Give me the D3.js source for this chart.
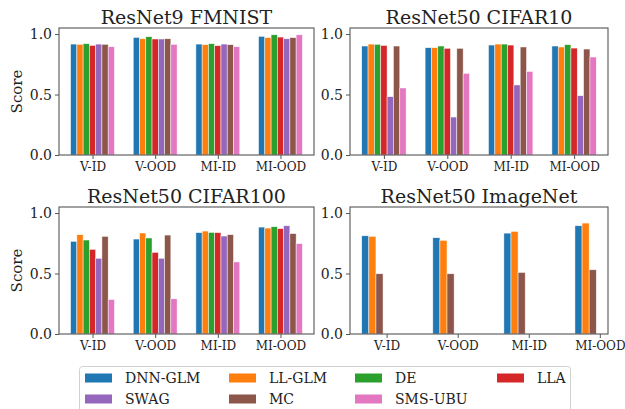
<!DOCTYPE html>
<html>
<head>
<meta charset="utf-8">
<script src="https://cdn.jsdelivr.net/npm/d3@7"></script>
<style>
  html, body { margin: 0; padding: 0; background: #fff; }
  svg { display: block; }
</style>
</head>
<body>
<svg id="chart" width="625" height="409"></svg>
<script>
const SERIF = "DejaVu Serif, Liberation Serif, serif";

// Metric groups on the x axis
const groups = ["V-ID", "V-OOD", "MI-ID", "MI-OOD"];

// Methods, in legend order, with their colours
const methods = ["DNN-GLM", "LL-GLM", "DE", "LLA", "SWAG", "MC", "SMS-UBU"];
const colors  = ["#1f77b4", "#ff7f0e", "#2ca02c", "#d62728", "#9467bd", "#8c564b", "#e377c2"];

// Scores per method, one value per group
const fmnist = {
  "DNN-GLM": [0.917, 0.972, 0.917, 0.981],
  "LL-GLM":  [0.915, 0.961, 0.912, 0.970],
  "DE":      [0.920, 0.978, 0.920, 0.994],
  "LLA":     [0.906, 0.959, 0.904, 0.975],
  "SWAG":    [0.917, 0.959, 0.917, 0.961],
  "MC":      [0.915, 0.961, 0.912, 0.970],
  "SMS-UBU": [0.895, 0.915, 0.895, 0.994]
};
const cifar10 = {
  "DNN-GLM": [0.901, 0.887, 0.909, 0.901],
  "LL-GLM":  [0.917, 0.887, 0.917, 0.893],
  "DE":      [0.915, 0.901, 0.917, 0.912],
  "LLA":     [0.906, 0.882, 0.909, 0.884],
  "SWAG":    [0.482, 0.314, 0.579, 0.490],
  "MC":      [0.901, 0.882, 0.893, 0.876],
  "SMS-UBU": [0.554, 0.675, 0.691, 0.810]
};
const cifar100 = {
  "DNN-GLM": [0.766, 0.785, 0.838, 0.884],
  "LL-GLM":  [0.821, 0.835, 0.851, 0.876],
  "DE":      [0.777, 0.794, 0.840, 0.887],
  "LLA":     [0.700, 0.675, 0.838, 0.871],
  "SWAG":    [0.626, 0.626, 0.810, 0.895],
  "MC":      [0.807, 0.818, 0.821, 0.830],
  "SMS-UBU": [0.285, 0.291, 0.596, 0.747]
};
const imagenet = {
  "DNN-GLM": [0.812, 0.796, 0.834, 0.895],
  "LL-GLM":  [0.807, 0.774, 0.848, 0.917],
  "MC":      [0.498, 0.498, 0.509, 0.531]
};

const yTicks = [0.0, 0.5, 1.0];

const panels = [
  { title: "ResNet9 FMNIST",    data: fmnist,   x0: 59,  x1: 314, y0: 28,  y1: 155, ylabel: true },
  { title: "ResNet50 CIFAR10",  data: cifar10,  x0: 350, x1: 608, y0: 28,  y1: 155, ylabel: false },
  { title: "ResNet50 CIFAR100", data: cifar100, x0: 59,  x1: 314, y0: 207, y1: 334, ylabel: true },
  { title: "ResNet50 ImageNet", data: imagenet, x0: 350, x1: 608, y0: 207, y1: 334, ylabel: false }
];

const svg = d3.select("#chart");
const barW = 0.1;      // width of one bar in group units
const nSlots = methods.length;

panels.forEach(p => {
  const present = methods.filter(m => p.data[m]);
  // bar offsets inside a group: slots counted from the left of a 7-wide group
  const offs = present.map((m, i) => (i - (nSlots - 1) / 2) * barW);
  const lo = d3.min(offs) - barW / 2;
  const hi = (groups.length - 1) + d3.max(offs) + barW / 2;
  const pad = (hi - lo) * 0.05;

  const x = d3.scaleLinear().domain([lo - pad, hi + pad]).range([p.x0, p.x1]);
  const y = d3.scaleLinear().domain([0, 1.05]).range([p.y1, p.y0]);

  const g = svg.append("g");

  // bars
  present.forEach((m, i) => {
    const c = colors[methods.indexOf(m)];
    g.selectAll(null)
      .data(p.data[m])
      .enter().append("rect")
      .attr("x", (v, gi) => x(gi + offs[i] - barW / 2))
      .attr("width", (v, gi) => x(gi + offs[i] + barW / 2) - x(gi + offs[i] - barW / 2))
      .attr("y", v => y(v))
      .attr("height", v => y(0) - y(v))
      .attr("fill", c)
      .attr("stroke", "#fff")
      .attr("stroke-opacity", 0.8)
      .attr("stroke-width", 0.6);
  });

  // frame
  g.append("rect")
    .attr("x", p.x0).attr("y", p.y0)
    .attr("width", p.x1 - p.x0).attr("height", p.y1 - p.y0)
    .attr("fill", "none").attr("stroke", "#555").attr("stroke-width", 1.1);

  // axes
  const xAxis = d3.axisBottom(x)
    .tickValues(d3.range(groups.length))
    .tickFormat(i => groups[i])
    .tickSize(4).tickPadding(3);
  const gx = g.append("g").attr("transform", `translate(0,${p.y1})`).call(xAxis)
    .attr("font-family", SERIF);
  gx.select(".domain").remove();
  gx.selectAll(".tick line").attr("stroke", "#555");
  gx.selectAll(".tick text").attr("font-size", 12).attr("fill", "#222");

  const yAxis = d3.axisLeft(y).tickValues(yTicks).tickFormat(d3.format(".1f"))
    .tickSize(4).tickPadding(3);
  const gy = g.append("g").attr("transform", `translate(${p.x0},0)`).call(yAxis)
    .attr("font-family", SERIF);
  gy.select(".domain").remove();
  gy.selectAll(".tick line").attr("stroke", "#555");
  gy.selectAll(".tick text").attr("font-size", 14).attr("fill", "#222");

  // title
  g.append("text")
    .attr("x", (p.x0 + p.x1) / 2).attr("y", p.y0 - 4)
    .attr("text-anchor", "middle")
    .attr("font-family", SERIF)
    .attr("font-size", 19)
    .attr("fill", "#222")
    .text(p.title);

  if (p.ylabel) {
    g.append("text")
      .attr("transform", `translate(${22},${(p.y0 + p.y1) / 2}) rotate(-90)`)
      .attr("text-anchor", "middle")
      .attr("font-family", SERIF)
      .attr("font-size", 15)
      .attr("fill", "#222")
      .text("Score");
  }
});

// legend
const lg = svg.append("g");
lg.append("rect")
  .attr("x", 79.5).attr("y", 366.5).attr("width", 491).attr("height", 52)
  .attr("rx", 3).attr("fill", "#fff").attr("stroke", "#d0d0d0").attr("stroke-width", 1);

const colX = [85, 229, 355, 497];
const rowY = [378, 399];
methods.forEach((m, i) => {
  const col = i % 4, row = Math.floor(i / 4);
  lg.append("rect")
    .attr("x", colX[col]).attr("y", rowY[row] - 4.5)
    .attr("width", 27).attr("height", 9)
    .attr("fill", colors[i]);
  lg.append("text")
    .attr("x", colX[col] + 40).attr("y", rowY[row] + 5)
    .attr("font-family", SERIF)
    .attr("font-size", 14)
    .attr("fill", "#222")
    .text(m);
});
</script>
</body>
</html>
